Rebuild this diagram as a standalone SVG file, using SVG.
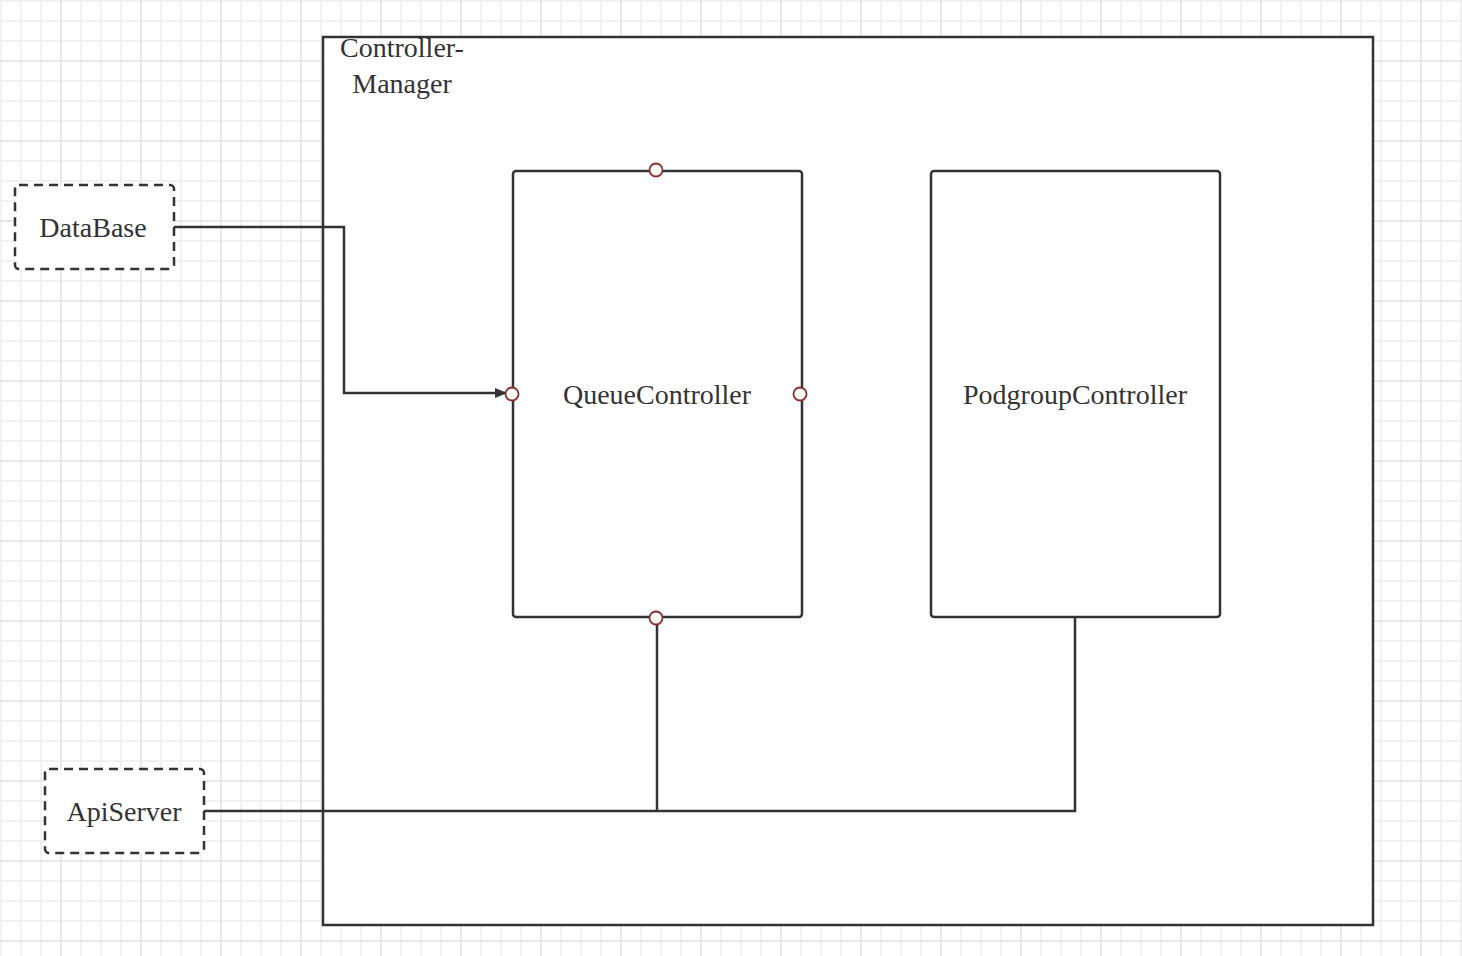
<svg xmlns="http://www.w3.org/2000/svg" width="1462" height="956" viewBox="0 0 1462 956">
<defs>
<pattern id="minor" width="20" height="20" patternUnits="userSpaceOnUse" x="0" y="0">
<path d="M1 0V20M0 1H20" stroke="#f1f1f1" stroke-width="2" fill="none"/>
</pattern>
<pattern id="major" width="80" height="80" patternUnits="userSpaceOnUse" x="60" y="60">
<path d="M1 0V80M0 1H80" stroke="#e8e8e8" stroke-width="2" fill="none"/>
</pattern>
<marker id="arrow" viewBox="0 0 12 10" refX="11" refY="5" markerWidth="12" markerHeight="10" markerUnits="userSpaceOnUse" orient="auto">
<path d="M0 0L12 5L0 10z" fill="#333"/>
</marker>
<style>
.lbl{font-family:"Liberation Serif","Times New Roman",serif;font-size:28px;fill:#333;text-anchor:middle}
.box{fill:#fff;stroke:#333;stroke-width:2.5}
.dash{fill:#fff;stroke:#333;stroke-width:2.5;stroke-dasharray:9 6}
.edge{fill:none;stroke:#333;stroke-width:2.5}
.port{fill:#fff;stroke:#8b2c2c;stroke-width:1.8}
</style>
</defs>
<rect width="1462" height="956" fill="#fff"/>
<rect width="1462" height="956" fill="url(#minor)"/>
<rect width="1462" height="956" fill="url(#major)"/>

<g id="controller-manager">
<rect class="box" x="323" y="37" width="1050" height="888"/>
<text class="lbl" x="402" y="57">Controller-</text>
<text class="lbl" x="402" y="93">Manager</text>
</g>

<g id="queue-controller">
<rect class="box" x="513" y="171" width="289" height="446" rx="3"/>
<text class="lbl" x="657" y="404">QueueController</text>
</g>

<g id="podgroup-controller">
<rect class="box" x="931" y="171" width="289" height="446" rx="3"/>
<text class="lbl" x="1075" y="404">PodgroupController</text>
</g>

<g id="database">
<rect class="dash" x="15" y="185" width="159" height="84" rx="4"/>
<text class="lbl" x="93" y="237">DataBase</text>
</g>

<g id="apiserver">
<rect class="dash" x="45" y="769" width="159" height="84" rx="4"/>
<text class="lbl" x="124" y="821">ApiServer</text>
</g>

<g id="connectors">
<path class="edge" d="M174 227H344V393H506" marker-end="url(#arrow)"/>
<path class="edge" d="M204 811H1075V617"/>
<path class="edge" d="M657 624V811"/>
</g>

<g id="ports">
<circle class="port" cx="656" cy="170" r="6.5"/>
<circle class="port" cx="512" cy="394" r="6.5"/>
<circle class="port" cx="800" cy="394" r="6.5"/>
<circle class="port" cx="656" cy="618" r="6.5"/>
</g>
</svg>
